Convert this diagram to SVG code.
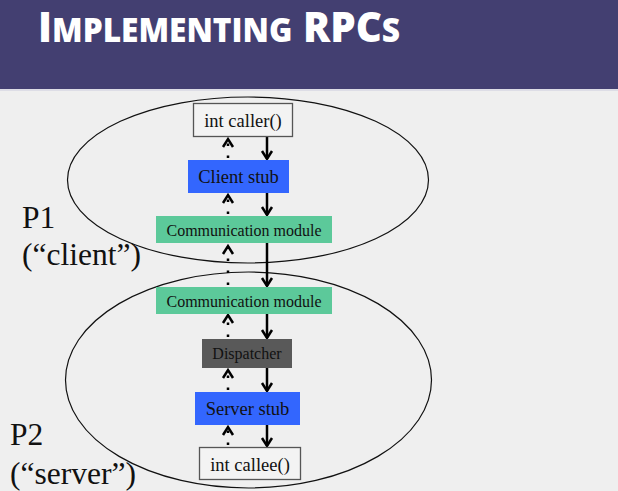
<svg xmlns="http://www.w3.org/2000/svg" width="618" height="491" viewBox="0 0 618 491">
<style>
.lbl{font-family:"Liberation Serif","Times New Roman",serif;fill:#111;text-anchor:middle}
.side{font-family:"Liberation Serif","Times New Roman",serif;fill:#111;font-size:31.5px}
.ell{fill:none;stroke:#111;stroke-width:1.2}
.solid{fill:none;stroke:#000;stroke-width:2.5}
.dot{fill:none;stroke:#000;stroke-width:2.5;stroke-dasharray:2.5 9.5}
.title{fill:#fff;font-family:"Open Sans","Liberation Sans",sans-serif;font-weight:800}
</style>
<defs>
<marker id="chev" markerUnits="userSpaceOnUse" viewBox="-10 -7 12 14" refX="0" refY="0" markerWidth="12" markerHeight="14" orient="auto" overflow="visible">
<path d="M-8,-5 L0,0 L-8,5" fill="none" stroke="#000" stroke-width="2.5" stroke-dasharray="none"/>
</marker>
</defs>
<rect x="0" y="0" width="618" height="491" fill="#efefef"/>
<rect x="0" y="0" width="618" height="89" fill="#433f71"/>
<rect x="0" y="89" width="618" height="2" fill="#dddde6"/>
<text class="title" x="0" y="0" transform="translate(38,42) scale(0.96,1)"><tspan font-size="42">I</tspan><tspan font-size="33">MPLEMENTING</tspan><tspan font-size="42"> RPC</tspan><tspan font-size="33">S</tspan></text>

<g id="process-p1">
<ellipse class="ell" cx="248" cy="180" rx="180.5" ry="83"/>
<text class="side" x="22" y="228">P1</text>
<text class="side" x="22" y="265">(“client”)</text>
</g>
<g id="process-p2">
<ellipse class="ell" cx="248.5" cy="380" rx="183" ry="108"/>
<text class="side" x="10" y="445">P2</text>
<text class="side" x="10" y="484">(“server”)</text>
</g>

<g id="connectors">
<line class="solid" x1="267" y1="137" x2="267" y2="159" marker-end="url(#chev)"/>
<line class="solid" x1="267" y1="193" x2="267" y2="215" marker-end="url(#chev)"/>
<line class="solid" x1="267" y1="243" x2="267" y2="286" marker-end="url(#chev)"/>
<line class="solid" x1="267" y1="314" x2="267" y2="338" marker-end="url(#chev)"/>
<line class="solid" x1="267" y1="368" x2="267" y2="391" marker-end="url(#chev)"/>
<line class="solid" x1="267" y1="425" x2="267" y2="446" marker-end="url(#chev)"/>
<line class="dot" x1="228" y1="158" x2="228" y2="139" marker-end="url(#chev)"/>
<line class="dot" x1="228" y1="214" x2="228" y2="195" marker-end="url(#chev)"/>
<line class="dot" x1="228" y1="285" x2="228" y2="246" marker-end="url(#chev)"/>
<line class="dot" x1="228" y1="337" x2="228" y2="315" marker-end="url(#chev)"/>
<line class="dot" x1="228" y1="390" x2="228" y2="370" marker-end="url(#chev)"/>
<line class="dot" x1="228" y1="445" x2="228" y2="427" marker-end="url(#chev)"/>
</g>

<g id="caller">
<rect x="193.5" y="103.5" width="99" height="33" fill="#f3f3f3" stroke="#555" stroke-width="1.3"/>
<text class="lbl" x="243" y="127" font-size="18.5">int caller()</text>
</g>
<g id="client-stub">
<rect x="188" y="160" width="101" height="33" fill="#3366fe"/>
<text class="lbl" x="238.5" y="182.5" font-size="18.5">Client stub</text>
</g>
<g id="comm-module-1">
<rect x="156" y="216" width="176" height="27" fill="#5cc99a"/>
<text class="lbl" x="244" y="235.5" font-size="16">Communication module</text>
</g>
<g id="comm-module-2">
<rect x="156" y="287" width="176" height="27" fill="#5cc99a"/>
<text class="lbl" x="244" y="306.5" font-size="16">Communication module</text>
</g>
<g id="dispatcher">
<rect x="202" y="339" width="90" height="29" fill="#595959"/>
<text class="lbl" x="247" y="359" font-size="16">Dispatcher</text>
</g>
<g id="server-stub">
<rect x="195" y="392" width="105" height="33" fill="#3366fe"/>
<text class="lbl" x="247.5" y="415" font-size="18.5">Server stub</text>
</g>
<g id="callee">
<rect x="199.5" y="447.5" width="101" height="32" fill="#f3f3f3" stroke="#555" stroke-width="1.3"/>
<text class="lbl" x="250" y="471" font-size="18.5">int callee()</text>
</g>
</svg>
